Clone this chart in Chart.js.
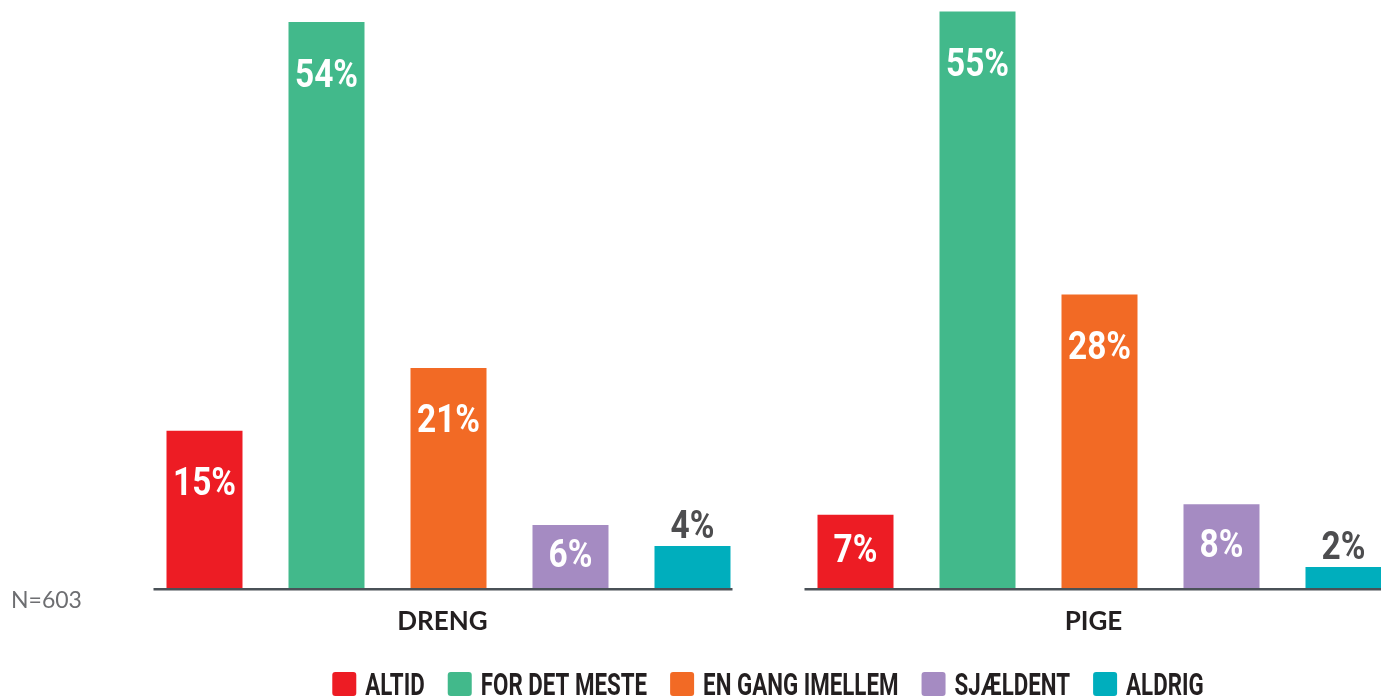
<!DOCTYPE html>
<html>
<head>
<meta charset="utf-8">
<script src="https://cdn.jsdelivr.net/npm/chart.js@4/dist/chart.umd.min.js"></script>
<style>
  html, body { margin: 0; padding: 0; background: #fff; overflow: hidden; }
  #wrap { width: 1540px; height: 697px; }
</style>
</head>
<body>
<div id="wrap"><canvas id="chart" width="1540" height="697"></canvas></div>
<script>
const groups = ['DRENG', 'PIGE'];
const answers = ['ALTID', 'FOR DET MESTE', 'EN GANG IMELLEM', 'SJÆLDENT', 'ALDRIG'];
const altid = [15, 7];
const forDetMeste = [54, 55];
const enGang = [21, 28];
const sjaeldent = [6, 8];
const aldrig = [4, 2];
const colors = ['#ED1C24', '#42B98B', '#F26A25', '#A58BC2', '#00AEBD'];
const note = 'N=603';

const seriesValues = [altid, forDetMeste, enGang, sjaeldent, aldrig];

// no condensed face installed, so squeeze Roboto bold horizontally
function squeezedText(ctx, text, x, y, sx) {
    ctx.save();
    ctx.translate(x, y);
    ctx.scale(sx, 1);
    ctx.fillText(text, 0, 0);
    ctx.restore();
}

// value labels: inside near top for tall bars, centered for mid bars, above for tiny ones
const valueLabels = {
    id: 'valueLabels',
    afterDatasetsDraw(chart) {
        const ctx = chart.ctx;
        ctx.save();
        ctx.font = 'bold 38px Roboto';
        ctx.textAlign = 'center';
        ctx.textBaseline = 'alphabetic';
        chart.data.datasets.forEach((ds, di) => {
            chart.getDatasetMeta(di).data.forEach((bar, i) => {
                const h = bar.base - bar.y;
                let y, color = '#fff';
                if (h > 110) {
                    y = bar.y + 64.5;
                } else if (h >= 55) {
                    y = (bar.y + bar.base) / 2 + 10.5;
                } else {
                    y = bar.y - 8;
                    color = '#4d4d4f';
                }
                ctx.fillStyle = color;
                squeezedText(ctx, ds.data[i] + '%', bar.x, y, 0.88);
            });
        });
        ctx.restore();
    }
};

// separate baseline under each group + the N note
const groupAxis = {
    id: 'groupAxis',
    afterDatasetsDraw(chart) {
        const ctx = chart.ctx;
        const x = chart.scales.x;
        const y0 = chart.scales.y.getPixelForValue(0);
        ctx.save();
        ctx.strokeStyle = '#4a5157';
        ctx.lineWidth = 2.5;
        groups.forEach((g, i) => {
            const c = x.getPixelForValue(i);
            ctx.beginPath();
            ctx.moveTo(c - 295, y0 + 1.3);
            ctx.lineTo(c + 284, y0 + 1.3);
            ctx.stroke();
        });
        ctx.fillStyle = '#6d6e71';
        ctx.font = '23px Lato';
        ctx.textAlign = 'left';
        ctx.textBaseline = 'middle';
        ctx.fillText(note, 11, y0 + 13);
        ctx.restore();
    }
};

// bottom legend with condensed-looking labels
const squeezeLegend = {
    id: 'squeezeLegend',
    afterDraw(chart) {
        const ctx = chart.ctx;
        const sx = 0.72, box = 24, gap = 9, spacing = 23;
        ctx.save();
        ctx.font = 'bold 31px Roboto';
        ctx.textAlign = 'left';
        ctx.textBaseline = 'alphabetic';
        const items = chart.data.datasets.map(ds => ({
            text: ds.label,
            color: ds.backgroundColor,
            w: box + gap + ctx.measureText(ds.label).width * sx
        }));
        const total = items.reduce((s, it) => s + it.w, 0) + spacing * (items.length - 1);
        const area = chart.chartArea;
        let x = (area.left + area.right) / 2 - 6 - total / 2;
        const base = chart.height - 2;
        items.forEach(it => {
            ctx.fillStyle = it.color;
            ctx.beginPath();
            ctx.roundRect(x, base - 23, box, box, 3);
            ctx.fill();
            ctx.fillStyle = '#231f20';
            squeezedText(ctx, it.text, x + box + gap, base, sx);
            x += it.w + spacing;
        });
        ctx.restore();
    }
};

new Chart(document.getElementById('chart'), {
    type: 'bar',
    data: {
        labels: groups,
        datasets: answers.map((a, i) => ({
            label: a,
            data: seriesValues[i],
            backgroundColor: colors[i],
            borderWidth: 0,
            categoryPercentage: 0.937,
            barPercentage: 0.623
        }))
    },
    options: {
        responsive: false,
        animation: false,
        devicePixelRatio: 1,
        layout: { padding: { left: 123, right: 115, top: 0, bottom: 50 } },
        plugins: {
            legend: { display: false },
            tooltip: { enabled: false }
        },
        scales: {
            x: {
                grid: { display: false, drawTicks: false },
                border: { display: false },
                ticks: {
                    color: '#231f20',
                    padding: 18,
                    labelOffset: -6,
                    font: { family: 'Lato', size: 26, weight: 'bold' }
                },
                afterFit(s) { s.height = 59; }
            },
            y: {
                display: false,
                min: 0,
                max: 56.1
            }
        }
    },
    plugins: [valueLabels, groupAxis, squeezeLegend]
});
</script>
</body>
</html>
